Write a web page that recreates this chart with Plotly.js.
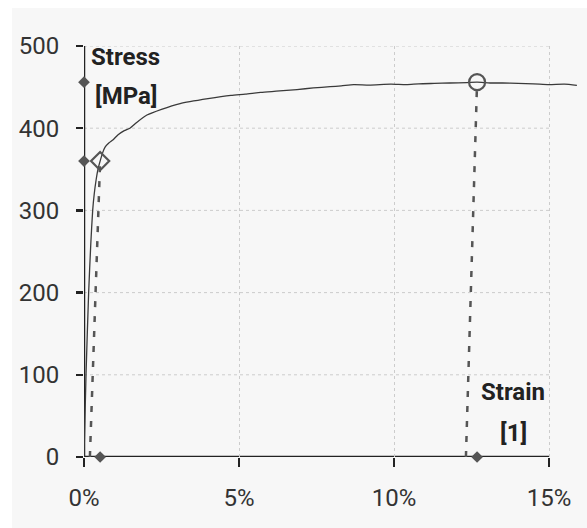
<!DOCTYPE html>
<html>
<head>
<meta charset="utf-8">
<script src="https://cdn.plot.ly/plotly-3.0.1.min.js"></script>
<style>
html,body{margin:0;padding:0;background:#ffffff;}
#chart{position:absolute;left:12px;top:8px;width:575px;height:520px;}
</style>
</head>
<body>
<div id="chart"></div>
<script>
// Stress-strain curve (strain as fraction, stress in MPa)
const strain = [0,0.00065,0.0015,0.0022,0.0028,0.0033,0.0039,0.0045,0.0052,0.006,0.0068,0.008,0.0094,0.011,0.013,0.0148,0.017,0.0203,0.025,0.031,0.04,0.0474,0.052,0.057,0.062,0.0687,0.074,0.0794,0.083,0.087,0.092,0.099,0.104,0.108,0.113,0.118,0.1235,0.1268,0.131,0.135,0.14,0.145,0.15,0.155,0.159];
const stress = [0,100,200,260,300,320,337,350,360,370,377,382,386,392,397,400,407,416,423,430,436,440,441.5,443.6,445,447,449,450.5,451.5,453,452.5,453.6,453,454,454.5,455,455.5,456,455,455,454.5,454,453,453.5,452];

// Yield point (Rp0.2) and tensile strength point
const yieldStrain = 0.0052, yieldStress = 360;
const offsetStart = 0.0019;
const tensileStrain = 0.1268, tensileStress = 456;
const unloadStart = 0.1232;

const xTicks = [0, 0.05, 0.10, 0.15];
const yTicks = [0, 100, 200, 300, 400, 500];

const dark = '#555555';

const traces = [
  {x: strain, y: stress, mode: 'lines', line: {color: '#3a3a3a', width: 1.3, shape: 'spline', smoothing: 0.6}, hoverinfo: 'skip'},
  {x: [offsetStart, yieldStrain], y: [0, yieldStress], mode: 'lines', line: {color: dark, width: 2.5, dash: '6px,9px'}},
  {x: [unloadStart, tensileStrain], y: [0, tensileStress], mode: 'lines', line: {color: dark, width: 2.5, dash: '6px,9px'}},
  {x: [yieldStrain], y: [yieldStress], mode: 'markers', marker: {symbol: 'diamond-open', size: 14, color: dark, line: {width: 2.2, color: dark}}},
  {x: [tensileStrain], y: [tensileStress], mode: 'markers', marker: {symbol: 'circle-open', size: 16, color: dark, line: {width: 2.2, color: dark}}},
  {x: [0, 0, yieldStrain, tensileStrain], y: [yieldStress, tensileStress, 0, 0], mode: 'markers', cliponaxis: false,
   marker: {symbol: 'diamond', size: 9, color: dark}}
];

const shapes = [];
yTicks.slice(1).forEach(v => shapes.push({type: 'line', xref: 'x', yref: 'y', x0: 0, x1: 0.15, y0: v, y1: v, layer: 'below',
  line: {color: '#cccccc', width: 1, dash: 'dot'}}));
shapes.push({type: 'line', xref: 'x', yref: 'y', x0: 0, x1: 0.15, y0: 0, y1: 0, layer: 'below', line: {color: '#222222', width: 2.5}});
shapes.push({type: 'line', xref: 'x', yref: 'y', x0: 0, x1: 0, y0: 0, y1: 500, layer: 'below', line: {color: '#222222', width: 2.5}});

const fam = 'Roboto, "Liberation Sans", Arial, sans-serif';
const tickFont = {family: fam, size: 24, color: '#333333'};
const titleFont = {family: fam, size: 24, color: '#222222', weight: 'bold'};

const layout = {
  width: 575, height: 520,
  paper_bgcolor: '#f7f7f7', plot_bgcolor: '#f7f7f7',
  margin: {l: 72, r: 7, t: 38, b: 71},
  showlegend: false,
  xaxis: {range: [0, 0.16], tickvals: xTicks, tickformat: '.0%', ticks: 'outside', ticklen: 9, tickwidth: 2.5, tickcolor: '#222222',
    showline: false, zeroline: false, showgrid: true, gridcolor: '#cccccc', griddash: 'dot', gridwidth: 1,
    tickfont: tickFont, ticklabelstandoff: 10, fixedrange: true},
  yaxis: {range: [0, 500], tickvals: yTicks, ticks: 'outside', ticklen: 7, tickwidth: 2.5, tickcolor: '#222222',
    showline: false, zeroline: false, showgrid: false, tickfont: tickFont, ticklabelstandoff: 12, fixedrange: true},
  shapes: shapes,
  annotations: [
    {x: 0.0135, y: 487, xref: 'x', yref: 'y', text: 'Stress', showarrow: false, font: titleFont, xanchor: 'center', yanchor: 'middle'},
    {x: 0.0135, y: 439, xref: 'x', yref: 'y', text: '[MPa]', showarrow: false, font: titleFont, xanchor: 'center', yanchor: 'middle'},
    {x: 0.1384, y: 79, xref: 'x', yref: 'y', text: 'Strain', showarrow: false, font: titleFont, xanchor: 'center', yanchor: 'middle'},
    {x: 0.1384, y: 29, xref: 'x', yref: 'y', text: '[1]', showarrow: false, font: titleFont, xanchor: 'center', yanchor: 'middle'}
  ]
};

Plotly.newPlot('chart', traces, layout, {displayModeBar: false, staticPlot: true});
</script>
</body>
</html>
